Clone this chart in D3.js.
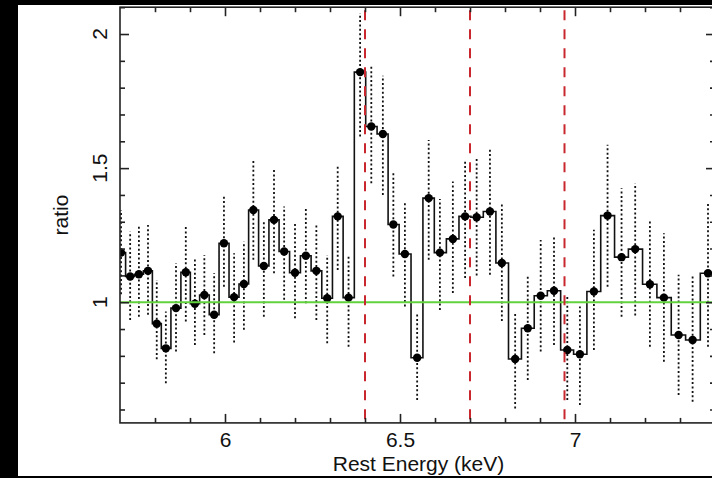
<!DOCTYPE html>
<html>
<head>
<meta charset="utf-8">
<script src="https://cdn.jsdelivr.net/npm/d3@7/dist/d3.min.js"></script>
<style>
html,body{margin:0;padding:0;background:#000;}
svg{display:block;}
text{font-family:"Liberation Sans",Arial,sans-serif;fill:#111;}
</style>
</head>
<body>
<svg id="chart" width="712" height="478"></svg>
<script>
// ---- data ----
const energy = [5.703,5.729,5.754,5.780,5.805,5.831,5.860,5.888,5.914,5.941,5.969,5.997,6.026,6.054,6.081,6.111,6.140,6.169,6.200,6.231,6.261,6.292,6.322,6.353,6.386,6.418,6.451,6.481,6.514,6.549,6.582,6.614,6.651,6.686,6.719,6.757,6.791,6.829,6.865,6.902,6.940,6.978,7.014,7.054,7.093,7.133,7.172,7.214,7.254,7.296,7.336,7.380];
const ratio  = [1.185,1.096,1.104,1.117,0.920,0.828,0.978,1.112,0.994,1.027,0.953,1.220,1.019,1.068,1.344,1.135,1.307,1.189,1.110,1.173,1.117,1.015,1.320,1.017,1.858,1.655,1.627,1.290,1.180,0.793,1.388,1.185,1.236,1.320,1.317,1.338,1.146,0.788,0.903,1.024,1.043,0.822,0.806,1.040,1.323,1.168,1.198,1.067,1.017,0.878,0.859,1.108];
const errLow = [1.030,0.934,0.946,0.953,0.787,0.698,0.816,0.928,0.840,0.878,0.810,1.058,0.850,0.897,1.158,0.946,1.108,1.009,0.940,0.996,0.934,0.847,1.120,0.834,1.618,1.444,1.400,1.096,0.984,0.635,1.158,0.971,1.034,1.090,1.100,1.102,0.930,0.604,0.710,0.816,0.840,0.635,0.617,0.822,1.058,0.946,0.950,0.834,0.778,0.654,0.629,0.834];
const errHigh= [1.344,1.263,1.282,1.288,1.083,0.965,1.146,1.282,1.164,1.176,1.108,1.394,1.183,1.226,1.530,1.307,1.494,1.357,1.300,1.357,1.288,1.176,1.512,1.170,2.078,1.885,1.844,1.481,1.375,0.959,1.605,1.385,1.450,1.530,1.543,1.578,1.369,0.959,1.096,1.232,1.251,1.021,0.984,1.270,1.587,1.425,1.444,1.307,1.257,1.102,1.102,1.369];
const lineEnergies = [6.4, 6.7, 6.97];
const xTicks = [6, 6.5, 7];
const xTickLabels = ["6", "6.5", "7"];
const yTicks = [1, 1.5, 2];
const yTickLabels = ["1", "1.5", "2"];
const xMinor = d3.range(5.8, 7.41, 0.1).map(v => +v.toFixed(2)).filter(v => !xTicks.includes(v));
const yMinor = d3.range(0.6, 2.11, 0.1).map(v => +v.toFixed(2)).filter(v => !yTicks.includes(v));

// ---- layout ----
const L = 120, R = 715, T = 7.2, B = 422.9;
const svg = d3.select("#chart");
svg.append("rect").attr("x",0).attr("y",0).attr("width",712).attr("height",478).attr("fill","#000");
svg.append("rect").attr("x",18).attr("y",5).attr("width",694).attr("height",471).attr("fill","#fff");

const x = d3.scaleLinear().domain([5.7, 7.4]).range([L, R]);
const y = d3.scaleLinear().domain([0.55, 2.1]).range([B, T]);

svg.append("clipPath").attr("id","clip").append("rect")
  .attr("x",L).attr("y",T).attr("width",R-L).attr("height",B-T);
const plot = svg.append("g").attr("clip-path","url(#clip)");

// bin edges
const n = energy.length;
const edges = [energy[0] - (energy[1]-energy[0])/2];
for (let i = 1; i < n; i++) edges.push((energy[i-1]+energy[i])/2);
edges.push(energy[n-1] + (energy[n-1]-energy[n-2])/2);

// error bars (dotted)
plot.selectAll("line.err").data(energy).join("line")
  .attr("class","err")
  .attr("x1", d => x(d)).attr("x2", d => x(d))
  .attr("y1", (d,i) => y(errLow[i])).attr("y2", (d,i) => y(errHigh[i]))
  .attr("stroke","#111").attr("stroke-width",1.8).attr("stroke-dasharray","2,2.4");

// step histogram
let p = d3.path();
p.moveTo(x(edges[0]), y(ratio[0]));
for (let i = 0; i < n; i++) {
  if (i > 0) p.lineTo(x(edges[i]), y(ratio[i]));
  p.lineTo(x(edges[i+1]), y(ratio[i]));
}
plot.append("path").attr("d", p.toString()).attr("fill","none")
  .attr("stroke","#111").attr("stroke-width",1.6);

// points
plot.selectAll("circle.pt").data(energy).join("circle")
  .attr("class","pt").attr("cx", d => x(d)).attr("cy", (d,i) => y(ratio[i]))
  .attr("r",4.2).attr("fill","#000");

// green unity line
plot.append("line").attr("x1",L).attr("x2",R).attr("y1",y(1)).attr("y2",y(1))
  .attr("stroke","#5fd23c").attr("stroke-width",2);

// red dashed lines
plot.selectAll("line.fe").data(lineEnergies).join("line")
  .attr("class","fe")
  .attr("x1", d => x(d)).attr("x2", d => x(d)).attr("y1", T+3).attr("y2", B)
  .attr("stroke","#c8282d").attr("stroke-width",2).attr("stroke-dasharray","10,9");

// axes
function styleAxis(g) {
  g.selectAll(".domain").remove();
  g.selectAll(".tick line").attr("stroke","#222").attr("stroke-width",1.6);
}
const gx = svg.append("g").attr("transform",`translate(0,${B})`)
  .call(d3.axisBottom(x).tickValues(xTicks).tickSize(-9).tickPadding(9)
        .tickFormat((d,i) => xTickLabels[i]));
styleAxis(gx);
gx.selectAll("text").attr("font-size",21).attr("fill","#111")
  .attr("font-family","Liberation Sans, Arial, sans-serif");
svg.append("g").attr("transform",`translate(0,${B})`)
  .call(d3.axisBottom(x).tickValues(xMinor).tickSize(-5).tickFormat("")).call(styleAxis);
svg.append("g").attr("transform",`translate(0,${T})`)
  .call(d3.axisTop(x).tickValues(xTicks).tickSize(-9).tickFormat("")).call(styleAxis);
svg.append("g").attr("transform",`translate(0,${T})`)
  .call(d3.axisTop(x).tickValues(xMinor).tickSize(-5).tickFormat("")).call(styleAxis);
svg.append("g").attr("transform",`translate(${L},0)`)
  .call(d3.axisLeft(y).tickValues(yTicks).tickSize(-9).tickFormat("")).call(styleAxis);
svg.append("g").attr("transform",`translate(${L},0)`)
  .call(d3.axisLeft(y).tickValues(yMinor).tickSize(-5).tickFormat("")).call(styleAxis);
svg.append("g").attr("transform",`translate(${R},0)`)
  .call(d3.axisRight(y).tickValues(yTicks).tickSize(-9).tickFormat("")).call(styleAxis);
svg.append("g").attr("transform",`translate(${R},0)`)
  .call(d3.axisRight(y).tickValues(yMinor).tickSize(-5).tickFormat("")).call(styleAxis);

// frame
svg.append("rect").attr("x",L).attr("y",T).attr("width",R-L).attr("height",B-T)
  .attr("fill","none").attr("stroke","#222").attr("stroke-width",1.6);

// y tick labels (rotated)
svg.selectAll("text.ylab").data(yTicks).join("text")
  .attr("class","ylab")
  .attr("transform", d => `translate(106.5,${y(d)}) rotate(-90)`)
  .attr("text-anchor","middle").attr("font-size",21)
  .text((d,i) => yTickLabels[i]);

// axis titles
svg.append("text").attr("x",(L+R)/2 + 1).attr("y",471)
  .attr("text-anchor","middle").attr("font-size",21).text("Rest Energy (keV)");
svg.append("text").attr("transform",`translate(68,${(T+B)/2}) rotate(-90)`)
  .attr("text-anchor","middle").attr("font-size",21).text("ratio");
</script>
</body>
</html>
